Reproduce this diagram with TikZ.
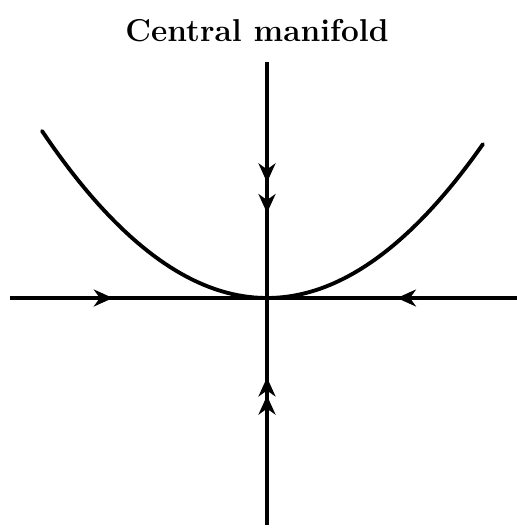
\documentclass[tikz,border=0pt]{standalone}
\usetikzlibrary{arrows.meta,decorations.markings}
\begin{document}
\begin{tikzpicture}[x=0.02cm, y=-0.02cm,
      every node/.style={font=\fontsize{18}{21}\selectfont\bfseries},
      axis/.style={line width=2.4pt},
      curve/.style={line width=2.2pt, line cap=round},
      flow/.style={axis, postaction={decorate}, decoration={markings,
          mark=at position #1 with {\arrow{Stealth[length=0.38cm, width=0.34cm, inset=0.12cm]}}}},
      flowtwo/.style 2 args={axis, postaction={decorate}, decoration={markings,
          mark=at position #1 with {\arrow{Stealth[length=0.38cm, width=0.34cm, inset=0.12cm]}},
          mark=at position #2 with {\arrow{Stealth[length=0.38cm, width=0.34cm, inset=0.12cm]}}}}
  ]
    \useasboundingbox (0,0) rectangle (517,529);
    \node (title) at (257,31) {Central manifold};

    % fixed point and axis ends
    \coordinate (origin) at (267,298);
    \coordinate (top) at (267,62);
    \coordinate (bottom) at (267,525);
    \coordinate (left) at (10,298);
    \coordinate (right) at (517,298);

    \draw[flow=0.40] (left) -- (origin);
    \draw[flow=0.48] (right) -- (origin);
    \draw[flowtwo={0.51}{0.64}] (top) -- (origin);
    \draw[flowtwo={0.57}{0.65}] (bottom) -- (origin);

    % central manifold
    \draw[curve] plot[variable=\t, domain=-2.25:2.16, samples=80] ({267+100*\t},{298-33*\t*\t});
  \end{tikzpicture}
\end{document}
